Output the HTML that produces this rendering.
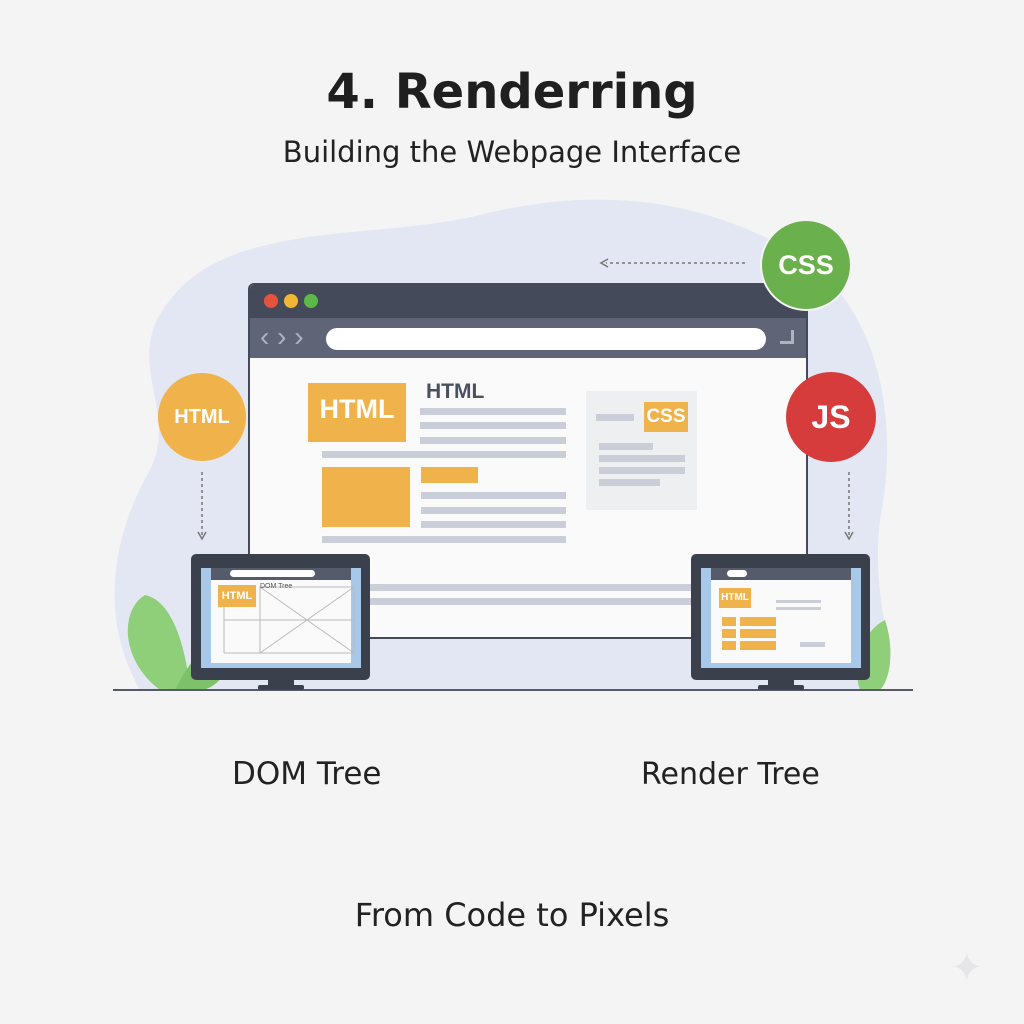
<!DOCTYPE html>
<html><head><meta charset="utf-8"><style>
body{margin:0;width:1024px;height:1024px;background:#f4f4f5;position:relative;overflow:hidden;font-family:"Liberation Sans",sans-serif}
div{position:absolute;box-sizing:border-box}
.t{white-space:nowrap;color:#222}
.d{font-family:"DejaVu Sans",sans-serif}
.ln{background:#c9ced8;height:7px}
.c{border-radius:50%;color:#fff;font-weight:bold;display:flex;align-items:center;justify-content:center}
</style></head><body>
<svg style="position:absolute;left:0;top:0" width="1024" height="1024">
<path d="M170 300 C230 220 380 240 480 215 C600 185 700 200 790 250 C880 300 900 420 880 520 C870 600 900 650 880 690 L140 690 C100 620 110 540 150 470 C180 410 120 360 170 300Z" fill="#e2e7f3"/>
<path d="M160 690 C120 660 120 610 145 595 C170 600 185 640 190 690Z" fill="#8fcf7a"/>
<path d="M175 690 C200 640 225 630 230 660 C225 680 210 690 200 690Z" fill="#7dc168"/>
<path d="M860 690 C850 660 865 630 885 620 C895 650 890 680 880 690Z" fill="#8fcf7a"/>
<line x1="113" y1="690" x2="913" y2="690" stroke="#555a66" stroke-width="2"/>
<line x1="745" y1="263" x2="606" y2="263" stroke="#777" stroke-width="1.5" stroke-dasharray="3 3"/>
<path d="M608 259 L601 263 L608 267" fill="none" stroke="#777" stroke-width="1.5"/>
<line x1="202" y1="472" x2="202" y2="535" stroke="#777" stroke-width="1.5" stroke-dasharray="3 3"/>
<path d="M198 532 L202 539 L206 532" fill="none" stroke="#777" stroke-width="1.5"/>
<line x1="849" y1="472" x2="849" y2="535" stroke="#777" stroke-width="1.5" stroke-dasharray="3 3"/>
<path d="M845 532 L849 539 L853 532" fill="none" stroke="#777" stroke-width="1.5"/>
</svg>
<div class="t d" style="left:0;width:1024px;top:64px;text-align:center;font-size:48px;font-weight:bold;color:#1f1f1f">4. Renderring</div>
<div class="t d" style="left:0;width:1024px;top:135px;text-align:center;font-size:29px">Building the Webpage Interface</div>

<!-- main browser -->
<div style="left:248px;top:283px;width:560px;height:356px;background:#fafafa;border:2px solid #454a5a;border-radius:6px 6px 0 0;overflow:hidden">
 <div style="left:0;top:0;width:100%;height:33px;background:#454a5a"></div>
 <div style="left:14px;top:9px;width:14px;height:14px;border-radius:50%;background:#e5533d"></div>
 <div style="left:34px;top:9px;width:14px;height:14px;border-radius:50%;background:#f2b632"></div>
 <div style="left:54px;top:9px;width:14px;height:14px;border-radius:50%;background:#5cb947"></div>
 <div style="left:0;top:33px;width:100%;height:40px;background:#5f6577"></div>
 <div class="t" style="left:10px;top:36px;font-size:28px;color:#aeb3c0">‹ › ›</div>
 <div style="left:76px;top:43px;width:440px;height:22px;border-radius:11px;background:#fff"></div>
 <div style="left:530px;top:45px;width:14px;height:14px;border-right:3px solid #aeb3c0;border-bottom:3px solid #aeb3c0"></div>
</div>
<div style="left:308px;top:383px;width:98px;height:59px;background:#f0b24a"></div>
<div class="t" style="left:308px;top:394px;width:98px;text-align:center;color:#fff;font-weight:bold;font-size:27px">HTML</div>
<div class="t" style="left:426px;top:380px;font-size:21px;font-weight:bold;color:#4a5060">HTML</div>
<div class="ln" style="left:420px;top:408px;width:146px"></div>
<div class="ln" style="left:420px;top:422px;width:146px"></div>
<div class="ln" style="left:420px;top:437px;width:146px"></div>
<div class="ln" style="left:322px;top:451px;width:244px"></div>
<div style="left:322px;top:467px;width:88px;height:60px;background:#f0b24a"></div>
<div style="left:421px;top:467px;width:57px;height:16px;background:#f0b24a"></div>
<div class="ln" style="left:421px;top:492px;width:145px"></div>
<div class="ln" style="left:421px;top:507px;width:145px"></div>
<div class="ln" style="left:421px;top:521px;width:145px"></div>
<div class="ln" style="left:322px;top:536px;width:244px"></div>
<div style="left:586px;top:391px;width:111px;height:119px;background:#eeeff1"></div>
<div class="ln" style="left:596px;top:414px;width:38px"></div>
<div style="left:644px;top:402px;width:44px;height:30px;background:#f0b24a"></div>
<div class="t" style="left:644px;top:406px;width:44px;text-align:center;color:#fff;font-weight:bold;font-size:19px">CSS</div>
<div class="ln" style="left:599px;top:443px;width:54px"></div>
<div class="ln" style="left:599px;top:455px;width:86px"></div>
<div class="ln" style="left:599px;top:467px;width:86px"></div>
<div class="ln" style="left:599px;top:479px;width:61px"></div>
<div class="ln" style="left:365px;top:584px;width:330px"></div>
<div class="ln" style="left:365px;top:598px;width:330px"></div>

<!-- circles -->
<div class="c" style="left:158px;top:373px;width:88px;height:88px;background:#f0b24a;font-size:20px">HTML</div>
<div class="c" style="left:760px;top:219px;width:92px;height:92px;background:#6ab04c;font-size:27px;border:2px solid #f4f4f5">CSS</div>
<div class="c" style="left:786px;top:372px;width:90px;height:90px;background:#d63c3c;font-size:32px">JS</div>

<!-- left monitor -->
<div style="left:191px;top:554px;width:179px;height:126px;background:#3b404d;border-radius:5px"></div>
<div style="left:201px;top:568px;width:160px;height:100px;background:#a8c8ea"></div>
<div style="left:211px;top:568px;width:140px;height:12px;background:#555b6a"></div>
<div style="left:230px;top:570px;width:85px;height:7px;border-radius:4px;background:#fff"></div>
<div style="left:211px;top:580px;width:140px;height:83px;background:#fafafa"></div>
<div style="left:218px;top:585px;width:38px;height:22px;background:#f0b24a;color:#fff;font-weight:bold;font-size:11px;text-align:center;line-height:22px">HTML</div>
<svg style="position:absolute;left:0;top:0" width="1024" height="1024">
<rect x="260" y="587" width="94" height="66" fill="none" stroke="#bbb"/>
<line x1="224" y1="620" x2="354" y2="620" stroke="#bbb"/><line x1="224" y1="607" x2="224" y2="653" stroke="#bbb"/><line x1="224" y1="653" x2="260" y2="653" stroke="#bbb"/>
<line x1="260" y1="587" x2="354" y2="653" stroke="#bbb"/><line x1="354" y1="587" x2="260" y2="653" stroke="#bbb"/>
<rect x="770" y="588" width="83" height="65" fill="none" stroke="#555"/>
<line x1="770" y1="653" x2="830" y2="598" stroke="#e06050" stroke-width="1.5"/><line x1="768" y1="617" x2="825" y2="645" stroke="#e06050" stroke-width="1.5"/>
</svg>
<div class="t" style="left:260px;top:583px;font-size:7px;color:#555">DOM Tree</div>
<div style="left:268px;top:680px;width:26px;height:6px;background:#3b404d"></div>
<div style="left:258px;top:685px;width:46px;height:5px;background:#3b404d;border-radius:2px"></div>

<!-- right monitor -->
<div style="left:691px;top:554px;width:179px;height:126px;background:#3b404d;border-radius:5px"></div>
<div style="left:701px;top:568px;width:160px;height:100px;background:#a8c8ea"></div>
<div style="left:711px;top:568px;width:140px;height:12px;background:#555b6a"></div>
<div style="left:727px;top:570px;width:20px;height:7px;border-radius:4px;background:#fff"></div>
<div style="left:711px;top:580px;width:140px;height:83px;background:#fafafa"></div>
<div style="left:719px;top:588px;width:32px;height:20px;background:#f0b24a;color:#fff;font-weight:bold;font-size:10px;text-align:center;line-height:20px"> HTML</div>
<div style="left:722px;top:617px;width:14px;height:9px;background:#f0b24a"></div>
<div style="left:740px;top:617px;width:36px;height:9px;background:#f0b24a"></div>
<div style="left:722px;top:629px;width:14px;height:9px;background:#f0b24a"></div>
<div style="left:740px;top:629px;width:36px;height:9px;background:#f0b24a"></div>
<div style="left:722px;top:641px;width:14px;height:9px;background:#f0b24a"></div>
<div style="left:740px;top:641px;width:36px;height:9px;background:#f0b24a"></div>
<div class="ln" style="left:776px;top:600px;width:45px;height:3px"></div>
<div class="ln" style="left:776px;top:607px;width:45px;height:3px"></div>
<div class="ln" style="left:800px;top:642px;width:25px;height:5px"></div>
<div style="left:768px;top:680px;width:26px;height:6px;background:#3b404d"></div>
<div style="left:758px;top:685px;width:46px;height:5px;background:#3b404d;border-radius:2px"></div>

<div class="t d" style="left:232px;top:756px;font-size:31px">DOM Tree</div>
<div class="t d" style="left:641px;top:757px;font-size:30px">Render Tree</div>
<div class="t d" style="left:0;width:1024px;top:896px;text-align:center;font-size:32px">From Code to Pixels</div>
<div class="t" style="left:950px;top:945px;font-size:40px;color:#e6e6e8">✦</div>
</body></html>
